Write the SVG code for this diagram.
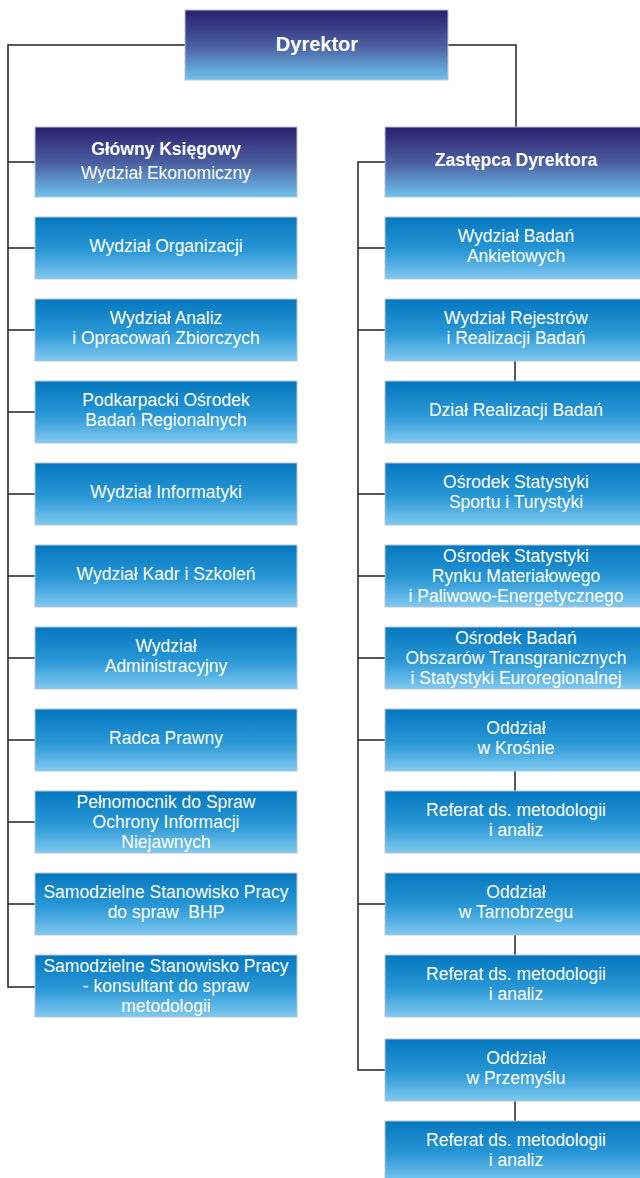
<svg xmlns="http://www.w3.org/2000/svg" width="640" height="1178" viewBox="0 0 640 1178">
<defs>
<linearGradient id="gDark" x1="0" y1="0" x2="0" y2="1">
<stop offset="0" stop-color="#2b1f6e"/>
<stop offset="0.5" stop-color="#4a5d9f"/>
<stop offset="1" stop-color="#6fc3ef"/>
</linearGradient>
<linearGradient id="gBlue" x1="0" y1="0" x2="0" y2="1">
<stop offset="0" stop-color="#0477bf"/>
<stop offset="0.55" stop-color="#2a98d6"/>
<stop offset="1" stop-color="#80c9f0"/>
</linearGradient>
<style>
.dk{fill:url(#gDark);stroke:#b8c4d4;stroke-width:1}
.bl{fill:url(#gBlue);stroke:#b8c4d4;stroke-width:1}
text{font-family:"Liberation Sans",Arial,sans-serif;fill:#ffffff;text-anchor:middle;font-size:17.5px}
.b{font-weight:bold}
text.t{font-size:20px}
.c{fill:none;stroke:#222222;stroke-width:1.5}
</style>
</defs>
<rect width="640" height="1178" fill="#ffffff"/>
<g id="connectors">
<path class="c" d="M185 45 H8 V987 H35"/>
<path class="c" d="M448 45 H516 V127"/>
<path class="c" d="M8 162 H35 M8 248 H35 M8 330 H35 M8 412 H35 M8 494 H35 M8 576 H35 M8 658 H35 M8 740 H35 M8 822 H35 M8 904 H35"/>
<path class="c" d="M385 162 H358 V1070 H385"/>
<path class="c" d="M358 248 H385 M358 330 H385 M358 494 H385 M358 576 H385 M358 658 H385 M358 740 H385 M358 904 H385"/>
<path class="c" d="M515 361 V381 M515 771 V791 M515 935 V955 M515 1101 V1121"/>
</g>
<g id="dyrektor"><rect class="dk" x="185" y="10" width="263" height="70"/><text class="b t" x="317" y="50.5">Dyrektor</text></g>
<g id="glowny"><rect class="dk" x="35" y="127" width="262" height="70"/><text class="b" x="166" y="155">Główny Księgowy</text><text x="166" y="179">Wydział Ekonomiczny</text></g>
<g id="l1"><rect class="bl" x="35" y="217" width="262" height="62"/><text x="166" y="252">Wydział Organizacji</text></g>
<g id="l2"><rect class="bl" x="35" y="299" width="262" height="62"/><text x="166" y="324">Wydział Analiz</text><text x="166" y="344">i Opracowań Zbiorczych</text></g>
<g id="l3"><rect class="bl" x="35" y="381" width="262" height="62"/><text x="166" y="406">Podkarpacki Ośrodek</text><text x="166" y="426">Badań Regionalnych</text></g>
<g id="l4"><rect class="bl" x="35" y="463" width="262" height="62"/><text x="166" y="498">Wydział Informatyki</text></g>
<g id="l5"><rect class="bl" x="35" y="545" width="262" height="62"/><text x="166" y="580">Wydział Kadr i Szkoleń</text></g>
<g id="l6"><rect class="bl" x="35" y="627" width="262" height="62"/><text x="166" y="652">Wydział</text><text x="166" y="672">Administracyjny</text></g>
<g id="l7"><rect class="bl" x="35" y="709" width="262" height="62"/><text x="166" y="744">Radca Prawny</text></g>
<g id="l8"><rect class="bl" x="35" y="791" width="262" height="62"/><text x="166" y="808">Pełnomocnik do Spraw</text><text x="166" y="828">Ochrony Informacji</text><text x="166" y="848">Niejawnych</text></g>
<g id="l9"><rect class="bl" x="35" y="873" width="262" height="62"/><text x="166" y="898">Samodzielne Stanowisko Pracy</text><text x="166" y="918" xml:space="preserve">do spraw  BHP</text></g>
<g id="l10"><rect class="bl" x="35" y="955" width="262" height="62"/><text x="166" y="972">Samodzielne Stanowisko Pracy</text><text x="166" y="992">- konsultant do spraw</text><text x="166" y="1012">metodologii</text></g>
<g id="zastepca"><rect class="dk" x="385" y="127" width="262" height="70"/><text class="b" x="516" y="166">Zastępca Dyrektora</text></g>
<g id="r1"><rect class="bl" x="385" y="217" width="262" height="62"/><text x="516" y="242">Wydział Badań</text><text x="516" y="262">Ankietowych</text></g>
<g id="r2"><rect class="bl" x="385" y="299" width="262" height="62"/><text x="516" y="324">Wydział Rejestrów</text><text x="516" y="344">i Realizacji Badań</text></g>
<g id="r3"><rect class="bl" x="385" y="381" width="262" height="62"/><text x="516" y="416">Dział Realizacji Badań</text></g>
<g id="r4"><rect class="bl" x="385" y="463" width="262" height="62"/><text x="516" y="488">Ośrodek Statystyki</text><text x="516" y="508">Sportu i Turystyki</text></g>
<g id="r5"><rect class="bl" x="385" y="545" width="262" height="62"/><text x="516" y="562">Ośrodek Statystyki</text><text x="516" y="582">Rynku Materiałowego</text><text x="516" y="602">i Paliwowo-Energetycznego</text></g>
<g id="r6"><rect class="bl" x="385" y="627" width="262" height="62"/><text x="516" y="644">Ośrodek Badań</text><text x="516" y="664">Obszarów Transgranicznych</text><text x="516" y="684">i Statystyki Euroregionalnej</text></g>
<g id="r7"><rect class="bl" x="385" y="709" width="262" height="62"/><text x="516" y="734">Oddział</text><text x="516" y="754">w Krośnie</text></g>
<g id="r8"><rect class="bl" x="385" y="791" width="262" height="62"/><text x="516" y="816">Referat ds. metodologii</text><text x="516" y="836">i analiz</text></g>
<g id="r9"><rect class="bl" x="385" y="873" width="262" height="62"/><text x="516" y="898">Oddział</text><text x="516" y="918">w Tarnobrzegu</text></g>
<g id="r10"><rect class="bl" x="385" y="955" width="262" height="62"/><text x="516" y="980">Referat ds. metodologii</text><text x="516" y="1000">i analiz</text></g>
<g id="r11"><rect class="bl" x="385" y="1039" width="262" height="62"/><text x="516" y="1064">Oddział</text><text x="516" y="1084">w Przemyślu</text></g>
<g id="r12"><rect class="bl" x="385" y="1121" width="262" height="62"/><text x="516" y="1146">Referat ds. metodologii</text><text x="516" y="1166">i analiz</text></g>
</svg>
